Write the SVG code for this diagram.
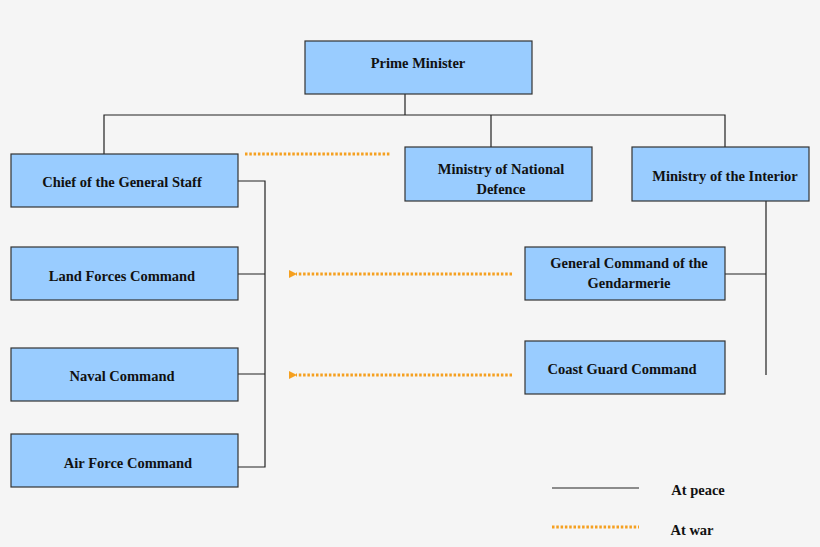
<svg xmlns="http://www.w3.org/2000/svg" width="820" height="547" viewBox="0 0 820 547">
<style>
.n{fill:#99ccff;stroke:#333;stroke-width:1.2}
.t{font-family:"Liberation Serif",serif;font-weight:bold;font-size:14.5px;fill:#111;text-anchor:middle}
.p{fill:none;stroke:#222;stroke-width:1.2}
.w{fill:none;stroke:#f5a020;stroke-width:3;stroke-dasharray:2.5 1.8}
</style>
<defs><marker id="a" markerWidth="8" markerHeight="8" refX="1" refY="4" orient="auto" markerUnits="userSpaceOnUse"><path d="M8,0L0,4L8,8z" fill="#f5a020"/></marker></defs>
<rect width="820" height="547" fill="#f5f5f5"/>
<g id="connectors">
<path class="p" d="M405,94V115M104,154V115H725V147M491,115V147"/>
<path class="p" d="M238,181H265V467H238M238,274H265M238,374H265"/>
<path class="p" d="M766,201V375M725,274H766"/>
<path class="w" d="M245,154H390"/>
<path class="w" d="M512,274H296" marker-end="url(#a)"/>
<path class="w" d="M512,375H296" marker-end="url(#a)"/>
<path class="p" d="M552,488H639"/>
<path class="w" d="M552,527H639"/>
</g>
<g id="pm"><rect class="n" x="305" y="41" width="227" height="53"/><text class="t" x="418" y="68">Prime Minister</text></g>
<g id="cgs"><rect class="n" x="11" y="154" width="227" height="53"/><text class="t" x="122" y="187">Chief of the General Staff</text></g>
<g id="mnd"><rect class="n" x="405" y="147" width="187" height="54"/><text class="t" x="501" y="174">Ministry of National</text><text class="t" x="501" y="194">Defence</text></g>
<g id="mi"><rect class="n" x="632" y="147" width="177" height="54"/><text class="t" x="725" y="181">Ministry of the Interior</text></g>
<g id="lfc"><rect class="n" x="11" y="247" width="227" height="53"/><text class="t" x="122" y="281">Land Forces Command</text></g>
<g id="nc"><rect class="n" x="11" y="348" width="227" height="53"/><text class="t" x="122" y="381">Naval Command</text></g>
<g id="afc"><rect class="n" x="11" y="434" width="227" height="53"/><text class="t" x="128" y="468">Air Force Command</text></g>
<g id="gcg"><rect class="n" x="525" y="247" width="200" height="53"/><text class="t" x="629" y="268">General Command of the</text><text class="t" x="629" y="288">Gendarmerie</text></g>
<g id="cgc"><rect class="n" x="525" y="341" width="200" height="53"/><text class="t" x="622" y="374">Coast Guard Command</text></g>
<g id="legend"><text class="t" x="698" y="495">At peace</text><text class="t" x="692" y="535">At war</text></g>
</svg>
